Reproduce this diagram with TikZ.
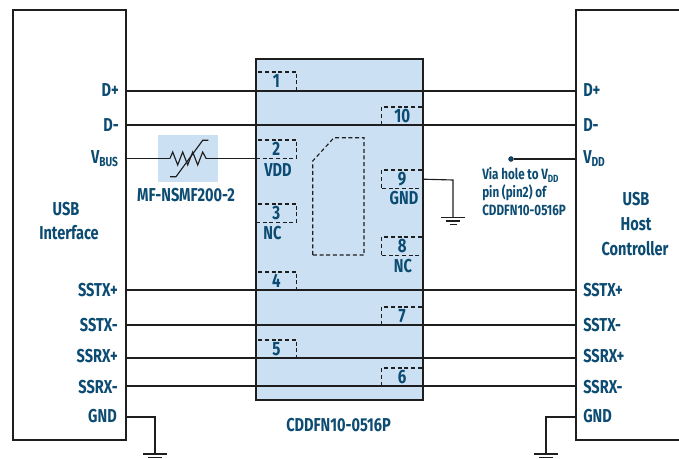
\documentclass[tikz,border=0pt]{standalone}
\usepackage{fontspec}
\setmainfont[FakeStretch=0.78]{Fira Sans}[BoldFont={Fira Sans Bold}]
\definecolor{lab}{HTML}{0C4B72}
\definecolor{chipblue}{HTML}{CBE0F3}
\definecolor{ln}{HTML}{1E1E1E}
\tikzset{
  wire/.style={draw=ln,line width=0.85pt},
  frame/.style={draw=ln,line width=1.35pt,outer sep=0pt},
  pinbox/.style={draw=ln,dash pattern=on 3pt off 2pt,line width=0.85pt,inner sep=0pt,outer sep=0pt,minimum width=30.5pt,minimum height=13.8pt,font=\bfseries\fontsize{14.5}{14.5}\selectfont,text=lab},
  lab/.style={text=lab,font=\bfseries\fontsize{14}{15}\selectfont,inner sep=0pt},
  lleft/.style={lab,anchor=base east},
  lright/.style={lab,anchor=base west},
  small/.style={text=lab,font=\bfseries\fontsize{11.2}{14}\selectfont,inner sep=0pt,anchor=base west},
  gndbar/.style={draw=ln,line width=0.85pt}
}
\newcommand{\gndsym}[2]{%
  \draw[gndbar] (#1-12,#2) -- (#1+12,#2);
  \draw[gndbar] (#1-7,#2+3.5) -- (#1+7,#2+3.5);
  \draw[gndbar] (#1-3.5,#2+7) -- (#1+3.5,#2+7);
}
\begin{document}
\begin{tikzpicture}[x=0.75pt,y=-0.75pt]
\useasboundingbox (0,0) rectangle (679,459);
% chip
\node[frame,fill=chipblue,inner sep=0pt,minimum width=125pt,minimum height=255.75pt,anchor=north west] (chip) at (256,59) {};
\node[lab] (chipname) at (338.5,425.5) {CDDFN10-0516P};
% boxes
\node[frame,inner sep=0pt,minimum width=84.75pt,minimum height=322.5pt,anchor=north west] (lbox) at (13,10) {};
\draw[frame] (679,10) -- (576,10) -- (576,440) -- (679,440);
% pin boxes
\node[pinbox,anchor=north west] (p1) at (256,72) {1};
\node[pinbox,anchor=north east] (p10) at (422.5,107) {10};
\node[pinbox,anchor=north west] (p2) at (256,140) {2};
\node[pinbox,anchor=north east] (p9) at (422.5,170) {9};
\node[pinbox,anchor=north west] (p3) at (256,204) {3};
\node[pinbox,anchor=north east] (p8) at (422.5,237) {8};
\node[pinbox,anchor=north west] (p4) at (256,272) {4};
\node[pinbox,anchor=north east] (p7) at (422.5,307) {7};
\node[pinbox,anchor=north west] (p5) at (256,340) {5};
\node[pinbox,anchor=north east] (p6) at (422.5,368) {6};
% inner pad
\draw[draw=ln,dash pattern=on 3pt off 2pt,line width=0.85pt] (312.7,255) -- (312.7,161) -- (334,137.7) -- (364,137.7) -- (364,255) -- cycle;
% wires
\foreach \n/\y in {dp/91,dm/125,stp/290,stm/325,srp/358,srm/386}{
  \coordinate (a\n) at (126,\y);
  \coordinate (b\n) at (576,\y);
  \draw[wire] (a\n) -- (b\n);
}
% pin labels
\node[lab] at (278,170.5) {VDD};
\node[lab] at (272.5,233.5) {NC};
\node[lab] at (404,198.5) {GND};
\node[lab] at (403,266.5) {NC};
% thermistor
\node[fill=chipblue,inner sep=0pt,minimum width=45pt,minimum height=35.25pt,anchor=north west] (rt) at (158,135) {};
\coordinate (rl) at (170,158.4);
\coordinate (rr) at (207,158.4);
\draw[wire] (126,158.4) -- (rl);
\draw[wire,line join=miter] (rl) -- (172.7,152) -- (177.7,165) -- (182.7,152) -- (187.7,165) -- (192.7,152) -- (197.7,165) -- (202.7,152) -- (206,158.4) -- (rr);
\draw[wire] (rr) -- (256,158.4);
\draw[wire] (170,176.7) -- (176,176.7) -- (202.7,140.3) -- (208.3,140.3);
\node[lab] at (186,195.5) {MF-NSMF200-2};
% chip ground
\coordinate (g9) at (453,180);
\coordinate (g9b) at (453,217.5);
\draw[wire] (p9.east) -- (g9) -- (g9b);
\gndsym{453}{217.5}
% bottom grounds
\coordinate (gl) at (155,417);
\coordinate (gr) at (546,417);
\draw[wire] (126,417) -- (gl) -- (155,454);
\draw[wire] (576,417) -- (gr) -- (546,454);
\gndsym{155}{454}
\gndsym{546}{454}
% via
\node[circle,fill=lab,draw=ln,line width=0.4pt,inner sep=0pt,minimum size=3.6pt] (via) at (511,159) {};
\draw[wire] (via) -- (576,159);
% left labels
\node[lleft] at (119,97) {D+};
\node[lleft] at (119,132) {D-};
\node[lleft] at (119,164) {V\textsubscript{BUS}};
\node[lleft] at (118,297) {SSTX+};
\node[lleft] at (118,332) {SSTX-};
\node[lleft] at (118,363) {SSRX+};
\node[lleft] at (118,394) {SSRX-};
\node[lleft] at (117,423) {GND};
% right labels
\node[lright] at (583,97) {D+};
\node[lright] at (583,132) {D-};
\node[lright] at (583,164) {V\textsubscript{DD}};
\node[lright] at (583,297) {SSTX+};
\node[lright] at (583,332) {SSTX-};
\node[lright] at (583,363) {SSRX+};
\node[lright] at (583,394) {SSRX-};
\node[lright] at (583,423) {GND};
% block titles
\node[lab] at (66,209.5) {USB};
\node[lab] at (69,232.5) {Interface};
\node[lab] at (636,199.5) {USB};
\node[lab] at (636,224.5) {Host};
\node[lab] at (635,248.5) {Controller};
% via text
\node[small] at (482,180) {Via hole to V\textsubscript{DD}};
\node[small] at (482,198) {pin (pin2) of};
\node[small] at (482,216) {CDDFN10-0516P};
\end{tikzpicture}
\end{document}
